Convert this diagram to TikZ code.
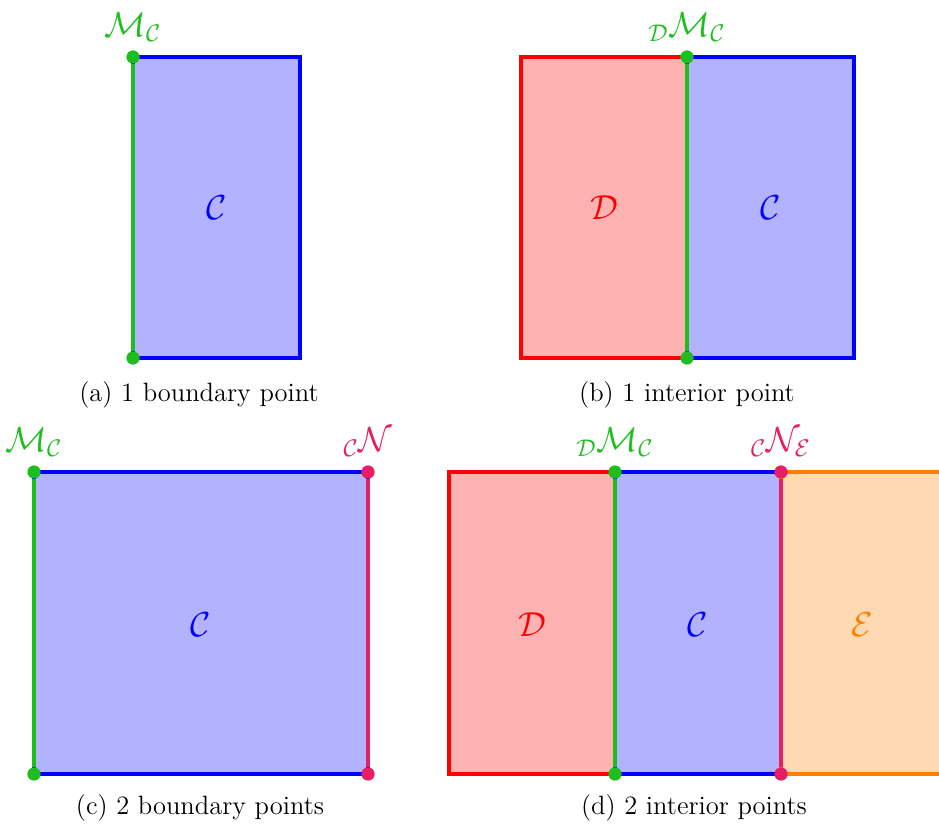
\documentclass[tikz,border=0pt]{standalone}
\usetikzlibrary{positioning}
\definecolor{ptgreen}{RGB}{30,190,30}
\definecolor{ptpink}{RGB}{232,30,100}
\tikzset{
	cell/.style={line width=1.4pt},
	dot/.style={circle, inner sep=0pt, minimum size=5.5pt, fill=#1},
	lbl/.style={font=\Large, text=#1},
	captext/.style={font=\fontsize{11}{13}\selectfont},
}
\begin{document}
\begin{tikzpicture}[x=0.415pt, y=-0.415pt]
	\useasboundingbox (0,0) rectangle (939,830);

	% (a) one boundary point
	\draw[cell, blue, fill=blue!30] (133,57) rectangle (300,358);
	\node[dot=ptgreen] (ma1) at (133,57) {};
	\node[dot=ptgreen] (ma2) at (133,358) {};
	\draw[cell, ptgreen] (ma1) -- (ma2);
	\node[lbl=ptgreen, above=0pt of ma1] (lma) {$\mathcal{M}_{\mathcal{C}}$};
	\node[lbl=blue] (ca) at (216.5,208) {$\mathcal{C}$};
	\node[captext] (capa) at (199,395) {(a) 1 boundary point};

	% (b) one interior point
	\draw[cell, red, fill=red!30] (521,57) rectangle (687,358);
	\draw[cell, blue, fill=blue!30] (687,57) rectangle (854,358);
	\node[dot=ptgreen] (mb1) at (687,57) {};
	\node[dot=ptgreen] (mb2) at (687,358) {};
	\draw[cell, ptgreen] (mb1) -- (mb2);
	\node[lbl=ptgreen, above=0pt of mb1] (lmb) {${}_{\mathcal{D}}\mathcal{M}_{\mathcal{C}}$};
	\node[lbl=red] (db) at (604,208) {$\mathcal{D}$};
	\node[lbl=blue] (cb) at (770.5,208) {$\mathcal{C}$};
	\node[captext] (capb) at (687,395) {(b) 1 interior point};

	% (c) two boundary points
	\draw[cell, blue, fill=blue!30] (34,472) rectangle (368,774);
	\node[dot=ptgreen] (mc1) at (34,472) {};
	\node[dot=ptgreen] (mc2) at (34,774) {};
	\node[dot=ptpink] (nc1) at (368,472) {};
	\node[dot=ptpink] (nc2) at (368,774) {};
	\draw[cell, ptgreen] (mc1) -- (mc2);
	\draw[cell, ptpink] (nc1) -- (nc2);
	\node[lbl=ptgreen, above=0pt of mc1] (lmc) {$\mathcal{M}_{\mathcal{C}}$};
	\node[lbl=ptpink, above=0pt of nc1] (lnc) {${}_{\mathcal{C}}\mathcal{N}$};
	\node[lbl=blue] (cc) at (201,625) {$\mathcal{C}$};
	\node[captext] (capc) at (200,808) {(c) 2 boundary points};

	% (d) two interior points
	\draw[cell, red, fill=red!30] (449,472) rectangle (615,774);
	\draw[cell, blue, fill=blue!30] (615,472) rectangle (781,774);
	\fill[orange!30] (781,472) rectangle (939,774);
	\draw[cell, orange] (939,472) -- (781,472) -- (781,774) -- (939,774);
	\node[dot=ptgreen] (md1) at (615,472) {};
	\node[dot=ptgreen] (md2) at (615,774) {};
	\node[dot=ptpink] (nd1) at (781,472) {};
	\node[dot=ptpink] (nd2) at (781,774) {};
	\draw[cell, ptgreen] (md1) -- (md2);
	\draw[cell, ptpink] (nd1) -- (nd2);
	\node[lbl=ptgreen, above=0pt of md1] (lmd) {${}_{\mathcal{D}}\mathcal{M}_{\mathcal{C}}$};
	\node[lbl=ptpink, above=0pt of nd1] (lnd) {${}_{\mathcal{C}}\mathcal{N}_{\mathcal{E}}$};
	\node[lbl=red] (dd) at (532,625) {$\mathcal{D}$};
	\node[lbl=blue] (cd) at (698,625) {$\mathcal{C}$};
	\node[lbl=orange] (ed) at (862,625) {$\mathcal{E}$};
	\node[captext] (capd) at (694,808) {(d) 2 interior points};
\end{tikzpicture}
\end{document}
